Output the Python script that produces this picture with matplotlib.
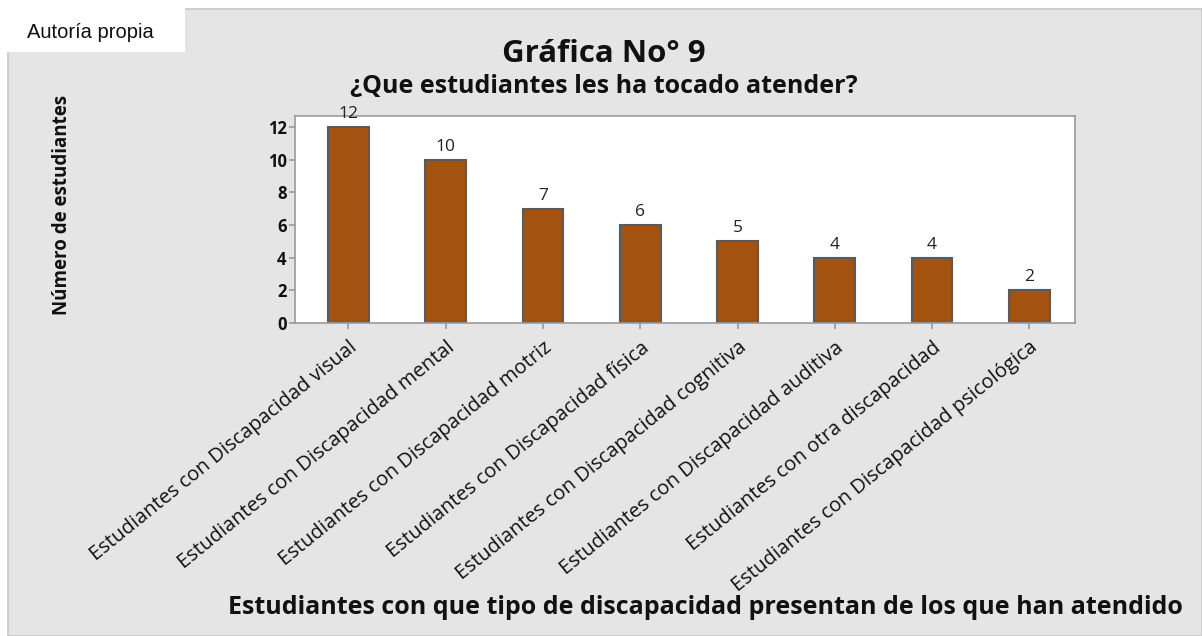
import matplotlib.pyplot as plt
from matplotlib.patches import Rectangle

# Data
categories = [
    'Estudiantes con Discapacidad visual',
    'Estudiantes con Discapacidad mental',
    'Estudiantes con Discapacidad motriz',
    'Estudiantes con Discapacidad física',
    'Estudiantes con Discapacidad cognitiva',
    'Estudiantes con Discapacidad auditiva',
    'Estudiantes con otra discapacidad',
    'Estudiantes con Discapacidad psicológica',
]
counts = [12, 10, 7, 6, 5, 4, 4, 2]
y_ticks = [0, 2, 4, 6, 8, 10, 12]

plt.rcParams['font.family'] = ['Open Sans', 'DejaVu Sans']

fig = plt.figure(figsize=(12.02, 6.36), dpi=100)
fig.patch.set_facecolor('white')

# Gray panel behind everything, with the white "Autoría propia" tab on top
W, H = 1202, 636
fig.patches.append(Rectangle((8 / W, 0), 1 - 8 / W, 1 - 9 / H, transform=fig.transFigure,
                             facecolor='#e5e5e5', edgecolor='#c8c8c8', linewidth=1.2, zorder=0))
fig.patches.append(Rectangle((0, 1 - 52 / H), 185 / W, 52 / H, transform=fig.transFigure,
                             facecolor='white', edgecolor='none', zorder=1))
fig.text(27 / W, 1 - 33 / H, 'Autoría propia', fontsize=14.5, family='Liberation Sans',
         ha='left', va='center', color='#111111')

ax = fig.add_axes([295 / W, 1 - 323 / H, 780 / W, 207 / H])
ax.set_zorder(3)
ax.set_facecolor('white')

x = range(len(categories))
bars = ax.bar(x, counts, width=0.42, color='#a3520f', edgecolor='#5a5a5a', linewidth=1.5, zorder=2)

ax.set_xlim(-0.55, 7.47)
ax.set_ylim(0, 12.67)
ax.set_yticks(y_ticks)
ax.set_yticklabels([str(t) for t in y_ticks], fontsize=12, fontweight='bold')
ax.set_xticks(list(x))
ax.set_xticklabels(categories, rotation=39, ha='right', rotation_mode='anchor', fontsize=14.5)

for s in ax.spines.values():
    s.set_color('#9a9a9a')
    s.set_linewidth(1.2)
ax.tick_params(axis='both', colors='#9a9a9a', width=1.2, labelcolor='#111111')
ax.tick_params(axis='y', length=4, pad=2)
ax.tick_params(axis='x', length=4.5, pad=6)

# Value labels above bars
for xi, v in zip(x, counts):
    ax.annotate(str(v), (xi, v), xytext=(0, 6.5), textcoords='offset points',
                ha='center', va='baseline', fontsize=12.5, color='#222222')

# Titles and axis labels
fig.text(604 / W, 1 - 62 / H, 'Gráfica No° 9', fontsize=22.5, fontweight='bold',
         ha='center', va='baseline', color='#111111')
fig.text(604 / W, 1 - 93 / H, '¿Que estudiantes les ha tocado atender?', fontsize=18,
         fontweight='bold', ha='center', va='baseline', color='#111111')
fig.text(62 / W, 1 - 205 / H, 'Número de estudiantes', fontsize=13.5, fontweight='bold',
         rotation=90, ha='center', va='center', color='#111111')
fig.text(228 / W, 1 - 614 / H,
         'Estudiantes con que tipo de discapacidad presentan de los que han atendido',
         fontsize=18, fontweight='bold', ha='left', va='baseline', color='#111111')

fig.savefig('out.png', dpi=100, facecolor='white')
